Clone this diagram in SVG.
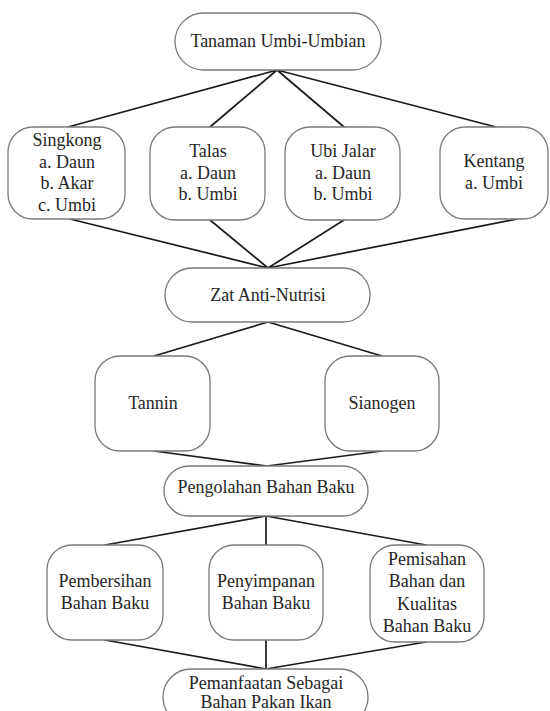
<svg xmlns="http://www.w3.org/2000/svg" width="550" height="711" viewBox="0 0 550 711">
<style>
.box{fill:#fff;stroke:#7a7a7a;stroke-width:1.3}
.t{font-family:"Liberation Serif","Times New Roman",serif;font-size:18px;fill:#262626;text-anchor:middle}
.c{stroke:#1a1a1a;stroke-width:1.7;fill:none;stroke-linecap:round}
</style>
<rect width="550" height="711" fill="#fff"/>
<g id="connectors">
<path class="c" d="M277 70 L68 127 M277 70 L210 127 M277 70 L344 127 M277 70 L496 127"/>
<path class="c" d="M70 219 L268 268 M210 220 L268 268 M344 220 L268 268 M517 219 L268 268"/>
<path class="c" d="M268 322 L154 356 M268 322 L382 356"/>
<path class="c" d="M154 451 L267 466 M382 451 L267 466"/>
<path class="c" d="M266 516 L105 545 M266 516 L266 545 M266 516 L426 545"/>
<path class="c" d="M105 640 L266 669 M266 640 L266 669 M426 642 L266 669"/>
</g>
<g id="n-tanaman">
<rect class="box" x="175" y="13" width="206" height="57" rx="28.5"/>
<text class="t" x="278" y="47">Tanaman Umbi-Umbian</text>
</g>
<g id="n-singkong">
<rect class="box" x="8" y="127" width="117" height="92" rx="25"/>
<text class="t" x="67" y="146">Singkong</text>
<text class="t" x="67" y="168">a. Daun</text>
<text class="t" x="67" y="189">b. Akar</text>
<text class="t" x="67" y="211">c. Umbi</text>
</g>
<g id="n-talas">
<rect class="box" x="150" y="127" width="115" height="93" rx="25"/>
<text class="t" x="208" y="157">Talas</text>
<text class="t" x="208" y="179">a. Daun</text>
<text class="t" x="208" y="200">b. Umbi</text>
</g>
<g id="n-ubijalar">
<rect class="box" x="285" y="127" width="115" height="93" rx="25"/>
<text class="t" x="343" y="157">Ubi Jalar</text>
<text class="t" x="343" y="179">a. Daun</text>
<text class="t" x="343" y="200">b. Umbi</text>
</g>
<g id="n-kentang">
<rect class="box" x="440" y="127" width="108" height="92" rx="25"/>
<text class="t" x="494" y="167">Kentang</text>
<text class="t" x="494" y="189">a. Umbi</text>
</g>
<g id="n-zat">
<rect class="box" x="165" y="268" width="205" height="54" rx="27"/>
<text class="t" x="268" y="301">Zat Anti-Nutrisi</text>
</g>
<g id="n-tannin">
<rect class="box" x="95" y="356" width="115" height="95" rx="25"/>
<text class="t" x="153" y="409">Tannin</text>
</g>
<g id="n-sianogen">
<rect class="box" x="325" y="356" width="114" height="95" rx="25"/>
<text class="t" x="382" y="409">Sianogen</text>
</g>
<g id="n-pengolahan">
<rect class="box" x="164" y="466" width="204" height="50" rx="25"/>
<text class="t" x="266" y="493">Pengolahan Bahan Baku</text>
</g>
<g id="n-pembersihan">
<rect class="box" x="47" y="545" width="116" height="95" rx="25"/>
<text class="t" x="105" y="587">Pembersihan</text>
<text class="t" x="105" y="609">Bahan Baku</text>
</g>
<g id="n-penyimpanan">
<rect class="box" x="209" y="545" width="114" height="95" rx="25"/>
<text class="t" x="266" y="587">Penyimpanan</text>
<text class="t" x="266" y="609">Bahan Baku</text>
</g>
<g id="n-pemisahan">
<rect class="box" x="370" y="545" width="114" height="97" rx="25"/>
<text class="t" x="427" y="565">Pemisahan</text>
<text class="t" x="427" y="587">Bahan dan</text>
<text class="t" x="427" y="610">Kualitas</text>
<text class="t" x="427" y="632">Bahan Baku</text>
</g>
<g id="n-pemanfaatan">
<rect class="box" x="163" y="669" width="205" height="56" rx="28"/>
<text class="t" x="266" y="689">Pemanfaatan Sebagai</text>
<text class="t" x="266" y="708">Bahan Pakan Ikan</text>
</g>
</svg>
